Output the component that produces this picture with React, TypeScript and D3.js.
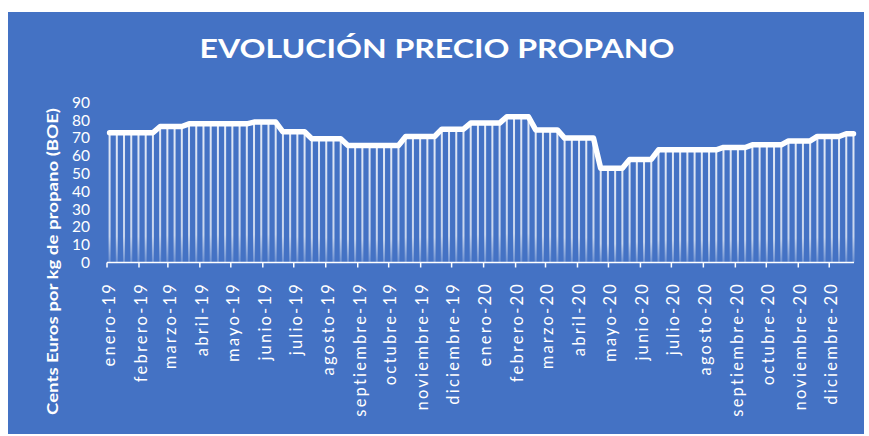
import React from "react";
import * as d3 from "d3";

const title = "EVOLUCIÓN PRECIO PROPANO";
const yTitle = "Cents Euros por kg de propano (BOE)";

const monthLabels = [
  "enero-19", "febrero-19", "marzo-19", "abril-19", "mayo-19", "junio-19",
  "julio-19", "agosto-19", "septiembre-19", "octubre-19", "noviembre-19", "diciembre-19",
  "enero-20", "febrero-20", "marzo-20", "abril-20", "mayo-20", "junio-20",
  "julio-20", "agosto-20", "septiembre-20", "octubre-20", "noviembre-20", "diciembre-20",
];

const yTicks = [0, 10, 20, 30, 40, 50, 60, 70, 80, 90];

// weekly prices (one per Thursday), grouped by month
const prices2019 = [
  73, 73, 73, 73, 73,
  73, 73, 76.5, 76.5,
  76.5, 76.5, 78, 78,
  78, 78, 78, 78,
  78, 78, 78, 79, 79,
  79, 79, 73.5, 73.5,
  73.5, 73.5, 69.6, 69.6,
  69.6, 69.6, 69.6, 65.8, 65.8,
  65.8, 65.8, 65.8, 65.8,
  65.8, 65.8, 70.9, 70.9, 70.9,
  70.9, 70.9, 75, 75,
  75, 75, 78.4, 78.4,
];
const prices2020 = [
  78.4, 78.4, 78.4, 82, 82,
  82, 82, 74.6, 74.6,
  74.6, 74.6, 70, 70,
  70, 70, 70, 53, 53,
  53, 53, 58, 58,
  58, 58, 63.4, 63.4,
  63.4, 63.4, 63.4, 63.4, 63.4,
  63.4, 63.4, 64.7, 64.7,
  64.7, 64.7, 66.2, 66.2,
  66.2, 66.2, 66.2, 68.4, 68.4,
  68.4, 68.4, 70.9, 70.9,
  70.9, 70.9, 72.4, 72.4,
];

const W = 869;
const H = 436;
const font = "Lato, 'Open Sans', sans-serif";

export default function App() {
  const prices = prices2019.concat(prices2020);
  const weeks = d3.timeThursday.range(new Date(2019, 0, 3), new Date(2020, 11, 25));
  const months = d3.timeMonth.range(new Date(2019, 0, 1), new Date(2020, 11, 2));

  const x = d3.scaleTime()
    .domain([new Date(2019, 0, 1), new Date(2020, 11, 25)])
    .range([107, 854]);
  const y = d3.scaleLinear().domain([0, 90]).range([262.5, 102.5]);

  const dayW = x(new Date(2019, 0, 2)) - x(new Date(2019, 0, 1));
  const cx = (d: Date) => x(d) + dayW / 2;

  const data = weeks.map((d, i) => ({ date: d, value: prices[i] }));

  const line = d3.line<{ date: Date; value: number }>()
    .x(d => cx(d.date))
    .y(d => y(d.value));

  return (
    <svg width={W} height={H} style={{ position: "absolute", left: 0, top: 0 }}>
      <defs>
        <linearGradient id="barFill" x1="0" y1="0" x2="0" y2="1">
          <stop offset="0%" stopColor="#ffffff" stopOpacity={0.85} />
          <stop offset="80%" stopColor="#ffffff" stopOpacity={0.7} />
          <stop offset="100%" stopColor="#ffffff" stopOpacity={0.2} />
        </linearGradient>
      </defs>
      <rect x={0} y={0} width={W} height={H} fill="#ffffff" />
      <rect x={8} y={12} width={856} height={422} fill="#4472C4" />

      <text x={437} y={58} fill="#fff" fontFamily={font} fontWeight={700}
        fontSize={27} textAnchor="middle" textLength={475} lengthAdjust="spacingAndGlyphs">
        {title}
      </text>

      <text transform="translate(58,261.5) rotate(-90)" fill="#fff" fontFamily={font}
        fontWeight={700} fontSize={15} textAnchor="middle" textLength={307}
        lengthAdjust="spacingAndGlyphs">
        {yTitle}
      </text>

      {yTicks.map(t => (
        <text key={t} x={90} y={y(t)} dy="0.35em" fill="#fff" fontFamily={font}
          fontSize={15.5} textAnchor="end">
          {t}
        </text>
      ))}

      {data.map((d, i) => (
        <rect key={i} x={cx(d.date) - 1} y={y(d.value)} width={2}
          height={y(0) - y(d.value)} fill="url(#barFill)" />
      ))}

      <path d={line(data) || ""} fill="none" stroke="#fff" strokeWidth={5.5}
        strokeLinejoin="round" strokeLinecap="round" />

      <line x1={107} x2={854} y1={y(0)} y2={y(0)} stroke="#fff" strokeWidth={1.5} />
      {months.map((m, i) => (
        <g key={i}>
          <line x1={x(m)} x2={x(m)} y1={y(0)} y2={y(0) + 5} stroke="#fff" strokeWidth={1.5} />
          <text transform={`translate(${x(m) + 2},282) rotate(-90)`} dy="0.35em" fill="#fff"
            fontFamily={font} fontSize={16.5} letterSpacing={2.2} textAnchor="end">
            {monthLabels[i]}
          </text>
        </g>
      ))}
    </svg>
  );
}
